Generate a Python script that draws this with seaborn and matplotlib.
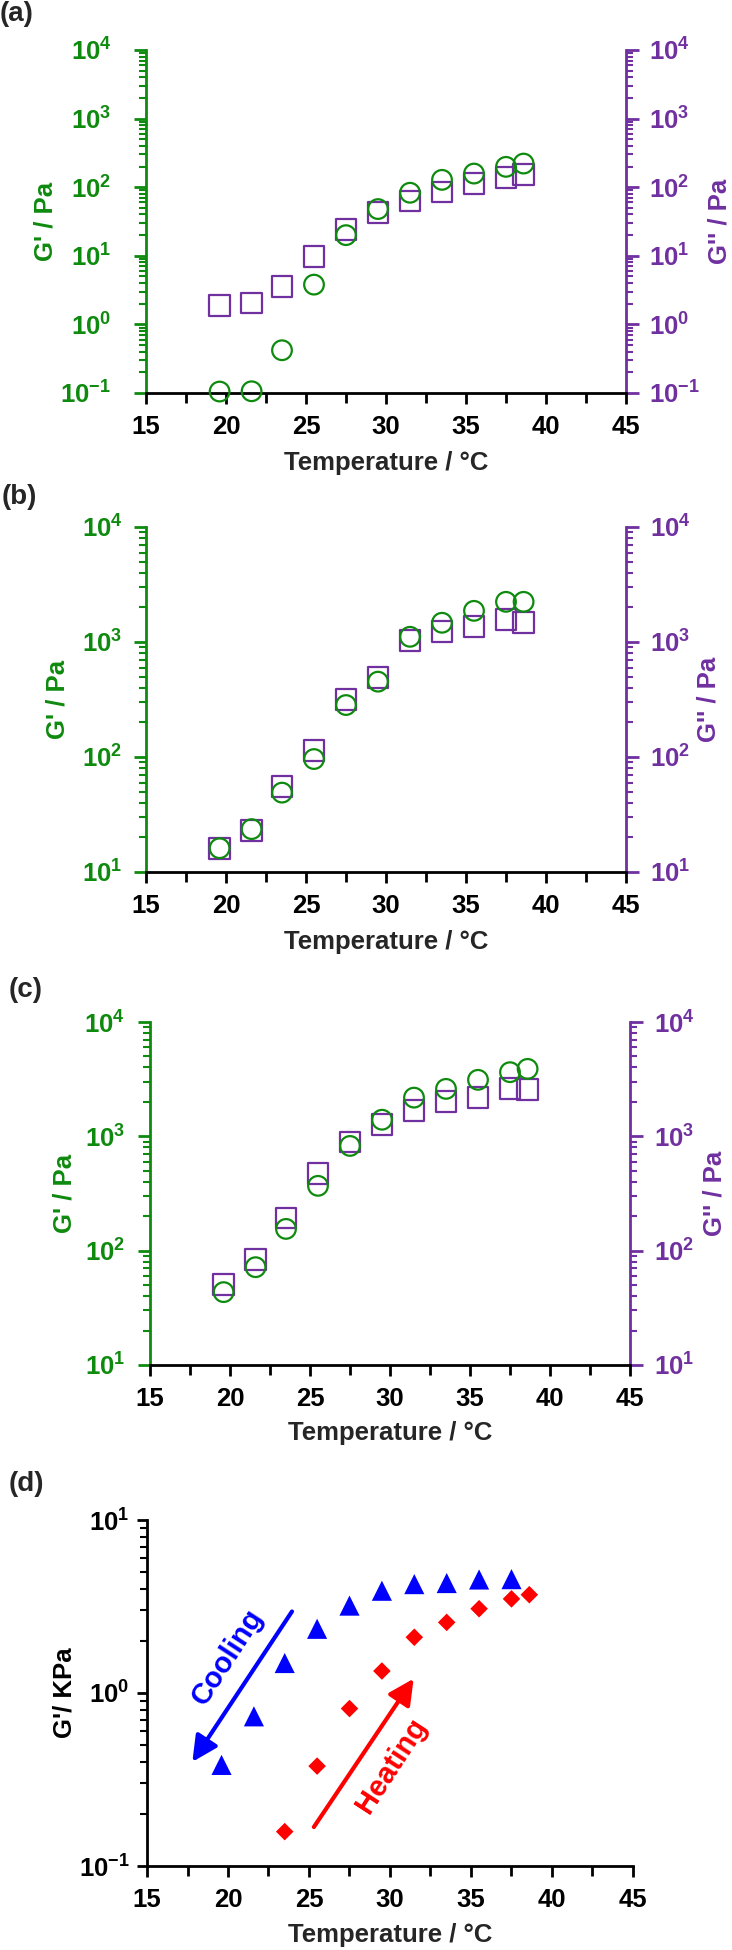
import numpy as np
import pandas as pd
import seaborn as sns
import matplotlib.pyplot as plt
from matplotlib.ticker import LogLocator, MultipleLocator, FuncFormatter, NullFormatter

# ----------------------------
# Data
# ----------------------------
temp = [19.6, 21.6, 23.5, 25.5, 27.5, 29.5, 31.5, 33.5, 35.5, 37.5, 38.6]

# panel (a)
g1_a = [0.105, 0.106, 0.42, 3.8, 20, 48, 83, 128, 158, 198, 221]
g2_a = [1.87, 2.05, 3.58, 9.7, 24, 42.5, 63, 85, 113, 137, 153]
# panel (b)
g1_b = [16.1, 23.6, 49, 96, 283, 452, 1110, 1470, 1866, 2235, 2235]
g2_b = [16, 22.9, 55, 113, 317, 492, 1037, 1225, 1373, 1570, 1480]
# panel (c)
g1_c = [43.4, 71.7, 155, 369, 824, 1397, 2180, 2600, 3120, 3640, 3890]
g2_c = [50.5, 83.5, 193, 470, 891, 1264, 1687, 2033, 2175, 2605, 2560]
# panel (d), G' in kPa
temp_cool = temp[:10]
g_cool = [0.384, 0.733, 1.49, 2.35, 3.2, 3.9, 4.26, 4.32, 4.53, 4.55]
temp_heat = temp[2:]
g_heat = [0.158, 0.378, 0.813, 1.34, 2.1, 2.56, 3.07, 3.5, 3.7]

GREEN = "#0e8a0e"
PURPLE = "#7030a0"

# ----------------------------
# Style
# ----------------------------
sns.set_style("ticks")
plt.rcParams["font.family"] = ["Liberation Sans", "DejaVu Sans"]
plt.rcParams["font.weight"] = "bold"
plt.rcParams["mathtext.fontset"] = "custom"
plt.rcParams["mathtext.rm"] = "Liberation Sans:bold"
plt.rcParams["mathtext.bf"] = "Liberation Sans:bold"
plt.rcParams["mathtext.it"] = "Liberation Sans:bold"

W, H = 732, 1950
fig = plt.figure(figsize=(W / 100, H / 100), dpi=100)

FS = 18.5


def make_axes(left, right, top, bottom):
    return fig.add_axes([left / W, 1 - bottom / H, (right - left) / W, (bottom - top) / H])


def pow_fmt(v, pos):
    return r"$\mathbf{10^{%d}}$" % int(round(np.log10(v)))


def style_x(ax, xlab_y):
    ax.set_xlim(15, 45)
    ax.xaxis.set_major_locator(MultipleLocator(5))
    ax.xaxis.set_minor_locator(MultipleLocator(2.5))
    ax.tick_params(axis="x", which="major", direction="out", length=8, width=2,
                   colors="black", labelsize=FS, pad=8)
    ax.tick_params(axis="x", which="minor", direction="out", length=7, width=2, colors="black")
    ax.spines["bottom"].set_color("black")
    ax.spines["bottom"].set_linewidth(2)
    ax.set_xlabel("Temperature / °C", fontsize=FS, fontweight="bold", va="center")
    ax.xaxis.set_label_coords(0.5, xlab_y)


def style_log_y(ax, lo, hi, color, side, pad):
    ax.set_yscale("log")
    ax.set_ylim(lo, hi)
    ax.yaxis.set_major_locator(LogLocator(base=10, numticks=12))
    ax.yaxis.set_minor_locator(LogLocator(base=10, subs=np.arange(2, 10), numticks=100))
    ax.yaxis.set_major_formatter(FuncFormatter(pow_fmt))
    ax.yaxis.set_minor_formatter(NullFormatter())
    ax.tick_params(axis="y", which="major", direction="out", length=9, width=2,
                   colors=color, labelsize=FS, pad=pad)
    ax.tick_params(axis="y", which="minor", direction="out", length=5, width=1.5, colors=color)
    ax.spines[side].set_color(color)
    ax.spines[side].set_linewidth(2)


def rheo_panel(geom, g1, g2, ylo, label, lpad, rpad, xlab_y, ylab_l, ylab_r, tag_xy):
    ax = make_axes(*geom)
    ax2 = ax.twinx()
    df = pd.DataFrame({"T": temp, "G1": g1, "G2": g2})

    sns.scatterplot(data=df, x="T", y="G2", ax=ax2, marker="s", s=225,
                    facecolor="none", edgecolor=PURPLE, linewidth=1.6, clip_on=False, zorder=3)
    sns.scatterplot(data=df, x="T", y="G1", ax=ax, marker="o", s=200,
                    facecolor="none", edgecolor=GREEN, linewidth=1.6, clip_on=False, zorder=3)

    style_x(ax, xlab_y)
    style_log_y(ax, ylo, 1e4, GREEN, "left", lpad)
    style_log_y(ax2, ylo, 1e4, PURPLE, "right", rpad)
    ax.set_zorder(ax2.get_zorder() + 1)
    ax.patch.set_visible(False)

    for s in ["top", "right"]:
        ax.spines[s].set_visible(False)
    for s in ["top", "left", "bottom"]:
        ax2.spines[s].set_visible(False)

    ax.set_ylabel("G' / Pa", color=GREEN, fontsize=FS, fontweight="bold", va="center")
    ax.yaxis.set_label_coords(ylab_l, 0.5)
    ax2.set_ylabel("G'' / Pa", color=PURPLE, fontsize=FS, fontweight="bold",
                   va="center", rotation=90)
    ax2.yaxis.set_label_coords(ylab_r, 0.5)

    fig.text(tag_xy[0] / W, 1 - tag_xy[1] / H, label, fontsize=20, fontweight="bold",
             ha="left", va="center")
    return ax


rheo_panel((146, 626, 50, 393), g1_a, g2_a, 0.1, "(a)", 16, 7.5, -0.204, -0.21, 1.194, (0, 14))
rheo_panel((146, 626, 527, 872), g1_b, g2_b, 10, "(b)", 8, 8, -0.203, -0.185, 1.171, (2, 497))
rheo_panel((150, 630, 1022, 1365), g1_c, g2_c, 10, "(c)", 9, 8, -0.198, -0.179, 1.175, (9, 990))

# ----------------------------
# Panel (d): cooling / heating
# ----------------------------
axd = make_axes(147, 633, 1520, 1866)
df_cool = pd.DataFrame({"T": temp_cool, "G": g_cool})
df_heat = pd.DataFrame({"T": temp_heat, "G": g_heat})
sns.scatterplot(data=df_cool, x="T", y="G", ax=axd, marker="^", s=210,
                color="#0000ff", edgecolor="none", zorder=3)
sns.scatterplot(data=df_heat, x="T", y="G", ax=axd, marker="D", s=80,
                color="#ff0000", edgecolor="none", zorder=3)

style_x(axd, -0.199)
style_log_y(axd, 0.1, 10, "black", "left", 5.5)
axd.tick_params(axis="y", which="major", length=7)
for s in ["top", "right"]:
    axd.spines[s].set_visible(False)
axd.set_ylabel("G'/ KPa", color="black", fontsize=FS, fontweight="bold", va="center")
axd.yaxis.set_label_coords(-0.169, 0.5)

axd.annotate("", xy=(17.8, 0.40), xytext=(23.95, 2.96),
             arrowprops=dict(arrowstyle="-|>,head_length=0.7,head_width=0.35",
                             color="#0000ff", lw=3, mutation_scale=22, shrinkA=0, shrinkB=0))
axd.annotate("", xy=(31.46, 1.21), xytext=(25.3, 0.168),
             arrowprops=dict(arrowstyle="-|>,head_length=0.7,head_width=0.35",
                             color="#ff0000", lw=3, mutation_scale=22, shrinkA=0, shrinkB=0))
axd.text(19.97, 1.62, "Cooling", color="#0000ff", fontsize=21, fontweight="bold",
         rotation=57, rotation_mode="anchor", ha="center", va="center")
axd.text(30.1, 0.38, "Heating", color="#ff0000", fontsize=21, fontweight="bold",
         rotation=57, rotation_mode="anchor", ha="center", va="center")

fig.text(9 / W, 1 - 1484 / H, "(d)", fontsize=20, fontweight="bold", ha="left", va="center")

fig.savefig("out.png", dpi=100)
plt.close(fig)
